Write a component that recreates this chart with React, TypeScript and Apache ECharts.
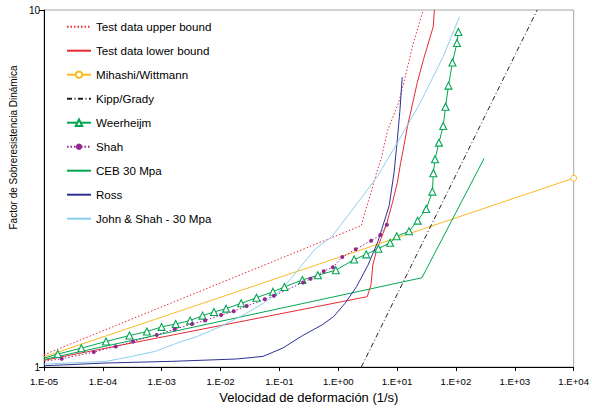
import React, { useEffect, useRef } from 'react';
import * as echarts from 'echarts';

const FONT = '"Liberation Sans", Arial, Helvetica, sans-serif';

const xTickLabels = ['1.E-05', '1.E-04', '1.E-03', '1.E-02', '1.E-01', '1.E+00', '1.E+01', '1.E+02', '1.E+03', '1.E+04'];
const yTickLabels = ['1', '10'];

const seriesNames = [
  'Test data upper bound',
  'Test data lower bound',
  'Mihashi/Wittmann',
  'Kipp/Grady',
  'Weerheijm',
  'Shah',
  'CEB 30 Mpa',
  'Ross',
  'John & Shah - 30 Mpa',
];

const upperBound = [
  [1e-5, 1.082], [2.47, 2.49], [2.8, 2.69], [3.62, 3.09], [4.4, 3.47], [5.33, 3.82],
  [6.9, 4.6], [10.6, 5.5], [12.4, 6.06], [18.9, 8.09], [27.8, 10],
];
const lowerBound = [
  [1e-5, 1.044], [3.11, 1.574], [3.6, 1.7], [3.87, 1.93], [4.4, 2.1], [5.33, 2.29],
  [6.5, 2.49], [8.35, 2.89], [10.1, 3.29], [11.5, 3.74], [12.7, 4.07], [15, 4.72],
  [22, 6.26], [28, 7.26], [41, 8.97], [43, 10],
];
const mihashi = [[1e-5, 1.068], [1e4, 3.38]];
const kipp = [[2.47, 1], [2400, 10]];
const weerheijmStart = [1e-5, 1.059];
const weerheijm = [
  [1.71e-5, 1.087], [4.31e-5, 1.129], [1.13e-4, 1.179], [2.83e-4, 1.225], [5.6e-4, 1.257],
  [9.95e-4, 1.295], [1.73e-3, 1.32], [3.04e-3, 1.349], [4.93e-3, 1.393], [7.73e-3, 1.426],
  [0.0124, 1.457], [0.0224, 1.508], [0.0408, 1.563], [0.0776, 1.625], [0.1217, 1.676],
  [0.246, 1.753], [0.45, 1.807], [0.908, 1.867], [1.86, 2.0], [2.99, 2.068], [4.8, 2.145],
  [7.6, 2.229], [9.84, 2.324], [15.9, 2.4], [22.3, 2.57], [31.2, 2.77], [39.7, 3.1],
  [41.3, 3.49], [44.1, 3.82], [51.4, 4.25], [60.7, 4.73], [66.5, 5.36], [74.6, 6.14],
  [87.1, 7.13], [104, 8.08], [110, 8.68],
];
const shahStart = [1e-5, 1.037];
const shah = [
  [2.0e-5, 1.055], [7.0e-5, 1.101], [1.66e-4, 1.142], [3.27e-4, 1.179], [8.22e-4, 1.23],
  [1.66e-3, 1.276], [3.28e-3, 1.32], [5.47e-3, 1.349], [0.0102, 1.399], [0.0167, 1.432],
  [0.0278, 1.482], [0.0564, 1.549], [0.0807, 1.584], [0.252, 1.725], [0.338, 1.766],
  [0.566, 1.854], [0.809, 1.903], [1.17, 2.034], [1.98, 2.136], [3.62, 2.259],
  [5.18, 2.342], [6.7, 2.502],
];
const ceb = [[1e-5, 1.05], [26.4, 1.778], [301, 3.84]];
const ross = [
  [1e-5, 1.008], [1.13e-4, 1.026], [1.46e-3, 1.037], [0.0187, 1.053], [0.0528, 1.071],
  [0.114, 1.13], [0.246, 1.224], [0.531, 1.312], [0.832, 1.384], [1.3, 1.507],
  [2.04, 1.678], [3.19, 1.927], [4.69, 2.24], [7.33, 2.83], [8.88, 3.51], [10.1, 4.34],
  [11.2, 5.27], [12.2, 6.49],
];
const johnShah = [
  [1e-5, 1.019], [1.13e-4, 1.037], [3.14e-4, 1.071], [7.69e-4, 1.106], [2.15e-3, 1.179],
  [4.06e-3, 1.218], [0.01, 1.299], [0.0245, 1.399], [0.0528, 1.507], [0.1, 1.625],
  [0.168, 1.793], [0.246, 1.936], [0.41, 2.145], [0.778, 2.317], [2.17, 2.895],
  [4.69, 3.43], [10.1, 4.25], [24.8, 5.5], [60.7, 7.41], [115, 9.58],
];

const RED = '#e52a32';
const YELLOW = '#fbb921';
const GREEN = '#00a651';
const PURPLE = '#93278f';
const NAVY = '#2e3192';
const SKY = '#8ccfef';

function fmtX(v: number): string {
  const e = Math.round(Math.log10(v));
  return xTickLabels[e + 5] ?? '';
}
function fmtY(v: number): string {
  const e = Math.round(Math.log10(v));
  return yTickLabels[e] ?? '';
}

const hiddenSymbol = { color: 'rgba(0,0,0,0)', borderColor: 'rgba(0,0,0,0)', borderWidth: 0, opacity: 0 };

export default function App() {
  const ref = useRef<HTMLDivElement>(null);
  useEffect(() => {
    document.body.style.margin = '0';
    if (!ref.current) return;
    const chart = echarts.init(ref.current, undefined, { renderer: 'svg' });
    const lineBase = { type: 'line' as const, smooth: false, animation: false };
    const noSymbolLegend = new Set([0, 1, 3, 6, 7, 8]);
    chart.setOption({
      animation: false,
      backgroundColor: '#ffffff',
      grid: { left: 37, right: 16, top: 10, bottom: 40, show: true, borderColor: '#a6a6a6', borderWidth: 1, backgroundColor: 'transparent' },
      legend: {
        orient: 'vertical', left: 61, top: 15.7, itemWidth: 24, itemHeight: 8, itemGap: 12,
        textStyle: { fontSize: 11.6, color: '#000', fontFamily: FONT },
        data: seriesNames.map((n, i) => (noSymbolLegend.has(i) ? { name: n, itemStyle: hiddenSymbol } : { name: n })),
      },
      xAxis: {
        type: 'log', logBase: 10, min: 1e-5, max: 1e4,
        axisLine: { lineStyle: { color: '#000', width: 1 } },
        axisTick: { show: true, length: 4, lineStyle: { color: '#000' } },
        minorTick: { show: false },
        splitLine: { show: false },
        axisLabel: { formatter: fmtX, fontSize: 9.6, color: '#000', fontFamily: FONT, margin: 9 },
        name: 'Velocidad de deformación (1/s)', nameLocation: 'middle', nameGap: 24,
        nameTextStyle: { fontSize: 13, color: '#000', fontFamily: FONT },
      },
      yAxis: {
        type: 'log', logBase: 10, min: 1, max: 10,
        axisLine: { show: true, lineStyle: { color: '#000', width: 1 } },
        axisTick: { show: true, length: 5, lineStyle: { color: '#000' } },
        splitLine: { show: false },
        axisLabel: { formatter: fmtY, fontSize: 10, color: '#000', fontFamily: FONT, margin: 4 },
        name: 'Factor de Sobreresistencia Dinámica', nameLocation: 'middle', nameGap: 17,
        nameTextStyle: { fontSize: 10, color: '#000', fontFamily: FONT, padding: [0, 0, 0, 82] },
      },
      series: [
        { ...lineBase, name: seriesNames[0], data: upperBound, symbol: 'none', lineStyle: { color: RED, width: 1, type: [1.5, 2] }, itemStyle: { color: RED } },
        { ...lineBase, name: seriesNames[1], data: lowerBound, symbol: 'none', lineStyle: { color: RED, width: 1 }, itemStyle: { color: RED } },
        {
          ...lineBase, name: seriesNames[2],
          data: [{ value: mihashi[0], symbol: 'none' }, { value: mihashi[1] }],
          symbol: 'circle', symbolSize: 6, lineStyle: { color: YELLOW, width: 1 }, itemStyle: { color: '#fff', borderColor: YELLOW, borderWidth: 1 },
        },
        { ...lineBase, name: seriesNames[3], data: kipp, symbol: 'none', lineStyle: { color: '#222', width: 1, type: [5, 2.5, 1, 2.5] }, itemStyle: { color: '#222' } },
        {
          ...lineBase, name: seriesNames[4],
          data: [{ value: weerheijmStart, symbol: 'none' }, ...weerheijm.map((p) => ({ value: p }))],
          symbol: 'triangle', symbolSize: 7, lineStyle: { color: GREEN, width: 1 },
          itemStyle: { color: '#fff', borderColor: GREEN, borderWidth: 1.1 },
        },
        {
          ...lineBase, name: seriesNames[5],
          data: [{ value: shahStart, symbol: 'none' }, ...shah.map((p) => ({ value: p }))],
          symbol: 'circle', symbolSize: 4, lineStyle: { color: PURPLE, width: 1, type: [1.5, 2] },
          itemStyle: { color: PURPLE },
        },
        { ...lineBase, name: seriesNames[6], data: ceb, symbol: 'none', lineStyle: { color: GREEN, width: 1 }, itemStyle: { color: GREEN } },
        { ...lineBase, name: seriesNames[7], data: ross, symbol: 'none', lineStyle: { color: NAVY, width: 1 }, itemStyle: { color: NAVY } },
        { ...lineBase, name: seriesNames[8], data: johnShah, symbol: 'none', lineStyle: { color: SKY, width: 1 }, itemStyle: { color: SKY } },
      ],
    });
    return () => chart.dispose();
  }, []);
  return <div ref={ref} style={{ width: 592, height: 409 }} />;
}
